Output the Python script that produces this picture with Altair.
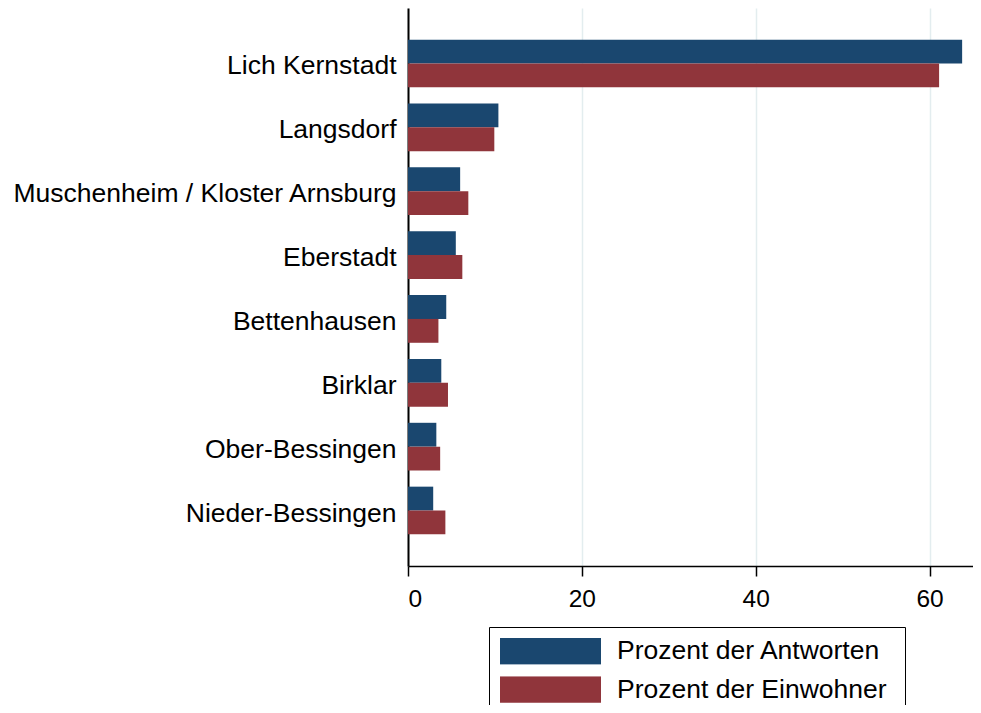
import altair as alt
import pandas as pd

categories = ["Lich Kernstadt", "Langsdorf", "Muschenheim / Kloster Arnsburg", "Eberstadt",
              "Bettenhausen", "Birklar", "Ober-Bessingen", "Nieder-Bessingen"]
series_names = ["Prozent der Antworten", "Prozent der Einwohner"]
antworten = [63.75, 10.4, 6.0, 5.5, 4.4, 3.83, 3.26, 2.9]
einwohner = [61.1, 9.93, 6.94, 6.25, 3.5, 4.6, 3.7, 4.3]
colors = ["#1a476f", "#90353b"]
x_ticks = [0, 20, 40, 60]

rows = []
for c, a, e in zip(categories, antworten, einwohner):
    rows.append({"cat": c, "series": series_names[0], "value": a})
    rows.append({"cat": c, "series": series_names[1], "value": e})
df = pd.DataFrame(rows)

FONT = "Liberation Sans, Arial, sans-serif"

chart = alt.Chart(df).mark_bar().encode(
    y=alt.Y("cat:N", sort=categories,
            scale=alt.Scale(paddingInner=0.253, paddingOuter=0.4955),
            axis=alt.Axis(title=None, ticks=False, domainColor="black", domainWidth=2,
                          labelFontSize=26.5, labelColor="black", labelPadding=12,
                          labelOffset=3, labelLimit=600, grid=False, labelFont=FONT)),
    yOffset=alt.YOffset("series:N", sort=series_names),
    x=alt.X("value:Q",
            scale=alt.Scale(domain=[0, 65.0], nice=False, zero=True),
            axis=alt.Axis(values=x_ticks, title=None, grid=True, gridColor="#e3edef",
                          gridWidth=1.5, domainColor="black", domainWidth=1.5,
                          tickColor="black", tickWidth=1.5, tickSize=10,
                          labelFontSize=24.5, labelColor="black", labelPadding=11,
                          labelFont=FONT)),
    color=alt.Color("series:N",
                    scale=alt.Scale(domain=series_names, range=colors),
                    legend=alt.Legend(
                        title=None, orient="none", legendX=81, legendY=619,
                        symbolType="M-1,-0.262L1,-0.262L1,0.262L-1,0.262Z",
                        symbolSize=10201, symbolStrokeWidth=0, symbolOpacity=1,
                        clipHeight=26.4, rowPadding=11.3, labelOffset=16,
                        labelFontSize=26.5, labelFont=FONT, labelColor="black",
                        labelLimit=600, padding=11, strokeColor="black",
                        fillColor="white",
                        labelExpr="datum.label + '\u00a0\u200b'")),
).properties(
    width=565, height=558,
    autosize=alt.AutoSizeParams(type="none"),
    padding={"left": 400, "top": 0, "right": 0, "bottom": 139},
    background="white",
).configure_view(stroke=None)

chart.save("out.html", embed_options={"renderer": "svg", "actions": False})
